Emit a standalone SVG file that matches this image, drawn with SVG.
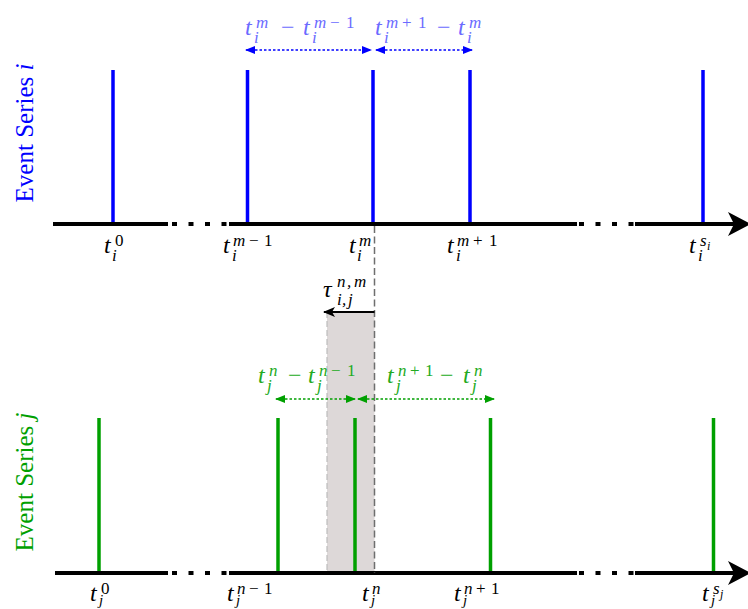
<svg xmlns="http://www.w3.org/2000/svg" width="748" height="609" viewBox="0 0 748 609">
<style>
.ax{stroke:#000;stroke-width:4;fill:none}
.axd{stroke:#000;stroke-width:4;fill:none;stroke-dasharray:5 11.5}
.eb{stroke:#0000ff;stroke-width:3.5}
.eg{stroke:#00a000;stroke-width:3.5}
.t{font-family:"Liberation Serif","Times New Roman",serif;font-style:italic;font-size:24px}
.s{font-style:italic;font-size:17px}
.sj{font-style:italic;font-size:15px}
.u{font-style:normal;font-size:17px}
.um{font-style:normal;font-size:24px}
.ss{font-style:italic;font-size:12px}
.side{font-family:"Liberation Serif","Times New Roman",serif;font-size:25px}
.lb{fill:#6b6bff}
.lg{fill:#22aa22}
</style>
<defs>
<marker id="ab" viewBox="0 0 10 8" refX="9" refY="4" markerWidth="10" markerHeight="8" markerUnits="userSpaceOnUse" orient="auto-start-reverse"><path d="M0,0 L10,4 L0,8 Z" fill="#0000ff"/></marker>
<marker id="ag" viewBox="0 0 10 8" refX="9" refY="4" markerWidth="10" markerHeight="8" markerUnits="userSpaceOnUse" orient="auto-start-reverse"><path d="M0,0 L10,4 L0,8 Z" fill="#00a000"/></marker>
<marker id="ak" viewBox="0 0 12 10" refX="11" refY="5" markerWidth="12" markerHeight="10" markerUnits="userSpaceOnUse" orient="auto"><path d="M0,0 L12,5 L0,10 L3,5 Z" fill="#000"/></marker>
</defs>

<g id="window">
<rect x="327" y="312" width="47.5" height="261" fill="#ddd8d8"/>
<line x1="327" y1="312" x2="327" y2="573" stroke="#bdbdbd" stroke-width="1.2" stroke-dasharray="6 3"/>
</g>

<g id="axis-i">
<line class="ax" x1="53" y1="224" x2="168" y2="224"/>
<line class="axd" x1="172" y1="224" x2="227" y2="224"/>
<line class="ax" x1="229" y1="224" x2="577" y2="224"/>
<line class="axd" x1="579" y1="224" x2="634" y2="224"/>
<line class="ax" x1="635" y1="224" x2="736" y2="224"/>
<path d="M751,224 L728,212 L734,224 L728,236 Z" fill="#000"/>
</g>
<g id="axis-j">
<line class="ax" x1="55" y1="573" x2="168" y2="573"/>
<line class="axd" x1="172" y1="573" x2="227" y2="573"/>
<line class="ax" x1="229" y1="573" x2="577" y2="573"/>
<line class="axd" x1="579" y1="573" x2="634" y2="573"/>
<line class="ax" x1="635" y1="573" x2="736" y2="573"/>
<path d="M751,573 L728,561 L734,573 L728,585 Z" fill="#000"/>
</g>

<g id="events-i">
<line class="eb" x1="113" y1="70" x2="113" y2="222"/>
<line class="eb" x1="247.5" y1="70" x2="247.5" y2="222"/>
<line class="eb" x1="373" y1="70" x2="373" y2="222"/>
<line class="eb" x1="470" y1="70" x2="470" y2="222"/>
<line class="eb" x1="703" y1="70" x2="703" y2="222"/>
</g>
<g id="events-j">
<line class="eg" x1="99" y1="418" x2="99" y2="571"/>
<line class="eg" x1="278" y1="418" x2="278" y2="571"/>
<line class="eg" x1="355" y1="418" x2="355" y2="571"/>
<line class="eg" x1="490.5" y1="418" x2="490.5" y2="571"/>
<line class="eg" x1="713.5" y1="418" x2="713.5" y2="571"/>
</g>

<g id="connectors">
<line x1="374.5" y1="226" x2="374.5" y2="573" stroke="#6e6e6e" stroke-width="1.5" stroke-dasharray="7 3.5"/>
<line x1="374.5" y1="312" x2="324" y2="312" stroke="#000" stroke-width="2" marker-end="url(#ak)"/>
<line x1="246" y1="50" x2="371" y2="50" stroke="#0000ff" stroke-width="1.6" stroke-dasharray="2.5 2" marker-start="url(#ab)" marker-end="url(#ab)"/>
<line x1="376" y1="50" x2="472" y2="50" stroke="#0000ff" stroke-width="1.6" stroke-dasharray="2.5 2" marker-start="url(#ab)" marker-end="url(#ab)"/>
<line x1="276" y1="399" x2="355" y2="399" stroke="#00a000" stroke-width="1.6" stroke-dasharray="2.5 2" marker-start="url(#ag)" marker-end="url(#ag)"/>
<line x1="358" y1="399" x2="494" y2="399" stroke="#00a000" stroke-width="1.6" stroke-dasharray="2.5 2" marker-start="url(#ag)" marker-end="url(#ag)"/>
</g>

<g id="side-labels">
<text class="side" fill="#0000ff" transform="translate(33,133) rotate(-90)" text-anchor="middle">Event Series <tspan font-style="italic">i</tspan></text>
<text class="side" fill="#00a000" transform="translate(33,482) rotate(-90)" text-anchor="middle">Event Series <tspan font-style="italic">j</tspan></text>
</g>

<g id="labels-i">
<text class="t" x="104" y="253">t<tspan class="u" x="115" y="246">0</tspan><tspan class="s" x="112" y="261">i</tspan></text>
<text class="t" x="223" y="253">t<tspan class="s" x="233" y="246">m</tspan><tspan class="u" x="249" y="246">−</tspan><tspan class="u" x="264" y="246">1</tspan><tspan class="s" x="232" y="261">i</tspan></text>
<text class="t" x="349" y="253">t<tspan class="s" x="359" y="246">m</tspan><tspan class="s" x="357" y="261">i</tspan></text>
<text class="t" x="447" y="253">t<tspan class="s" x="457" y="246">m</tspan><tspan class="u" x="473" y="246">+</tspan><tspan class="u" x="489" y="246">1</tspan><tspan class="s" x="456" y="261">i</tspan></text>
<text class="t" x="689" y="253">t<tspan class="s" x="700" y="246">s</tspan><tspan class="ss" x="707" y="250">i</tspan><tspan class="s" x="698" y="261">i</tspan></text>
</g>

<g id="labels-j">
<text class="t" x="90" y="601">t<tspan class="u" x="101" y="594">0</tspan><tspan class="sj" x="99" y="605">j</tspan></text>
<text class="t" x="227" y="601">t<tspan class="s" x="237" y="594">n</tspan><tspan class="u" x="249" y="594">−</tspan><tspan class="u" x="264" y="594">1</tspan><tspan class="sj" x="236" y="605">j</tspan></text>
<text class="t" x="362" y="601">t<tspan class="s" x="372" y="594">n</tspan><tspan class="sj" x="371" y="605">j</tspan></text>
<text class="t" x="454" y="601">t<tspan class="s" x="464" y="594">n</tspan><tspan class="u" x="476" y="594">+</tspan><tspan class="u" x="491" y="594">1</tspan><tspan class="sj" x="463" y="605">j</tspan></text>
<text class="t" x="702" y="601">t<tspan class="s" x="713" y="594">s</tspan><tspan class="ss" x="720" y="598">j</tspan><tspan class="sj" x="711" y="605">j</tspan></text>
</g>

<g id="diff-labels-i" class="lb">
<text class="t" x="245" y="35">t<tspan class="s" x="256" y="28">m</tspan><tspan class="s" x="254" y="43">i</tspan><tspan class="um" x="281" y="35">−</tspan><tspan x="303" y="35">t</tspan><tspan class="s" x="314" y="28">m</tspan><tspan class="u" x="330" y="28">−</tspan><tspan class="u" x="346" y="28">1</tspan><tspan class="s" x="312" y="43">i</tspan></text>
<text class="t" x="375" y="35">t<tspan class="s" x="386" y="28">m</tspan><tspan class="u" x="402" y="28">+</tspan><tspan class="u" x="418" y="28">1</tspan><tspan class="s" x="384" y="43">i</tspan><tspan class="um" x="437" y="35">−</tspan><tspan x="458" y="35">t</tspan><tspan class="s" x="469" y="28">m</tspan><tspan class="s" x="467" y="43">i</tspan></text>
</g>

<g id="diff-labels-j" class="lg">
<text class="t" x="258" y="383">t<tspan class="s" x="269" y="376">n</tspan><tspan class="s" x="267" y="391">j</tspan><tspan class="um" x="288" y="383">−</tspan><tspan x="308" y="383">t</tspan><tspan class="s" x="319" y="376">n</tspan><tspan class="u" x="331" y="376">−</tspan><tspan class="u" x="347" y="376">1</tspan><tspan class="s" x="317" y="391">j</tspan></text>
<text class="t" x="387" y="383">t<tspan class="s" x="398" y="376">n</tspan><tspan class="u" x="410" y="376">+</tspan><tspan class="u" x="425" y="376">1</tspan><tspan class="s" x="396" y="391">j</tspan><tspan class="um" x="440" y="383">−</tspan><tspan x="463" y="383">t</tspan><tspan class="s" x="474" y="376">n</tspan><tspan class="s" x="472" y="391">j</tspan></text>
</g>

<g id="tau-label">
<text class="t" x="323" y="297">τ<tspan class="s" x="337" y="287">n</tspan><tspan class="s" x="347" y="287">,</tspan><tspan class="s" x="354" y="287">m</tspan><tspan class="s" x="337" y="305">i</tspan><tspan class="s" x="342" y="305">,</tspan><tspan class="s" x="348" y="305">j</tspan></text>
</g>
</svg>
